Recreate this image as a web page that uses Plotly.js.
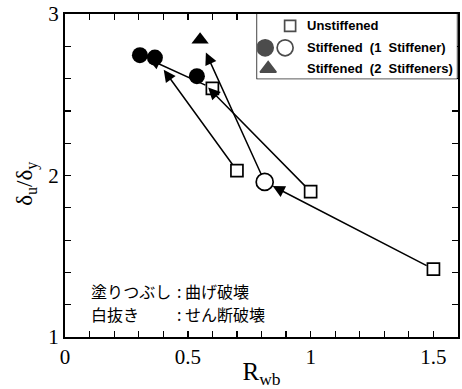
<!DOCTYPE html>
<html>
<head>
<meta charset="utf-8">
<script src="https://cdn.plot.ly/plotly-3.0.1.min.js"></script>
<style>html,body{margin:0;padding:0;background:#fff;}#chart{width:462px;height:389px;}</style>
</head>
<body>
<div id="chart"></div>
<script>
// ---- data ----
const unstiffX = [0.60, 0.70, 1.00, 1.50];
const unstiffY = [2.54, 2.03, 1.90, 1.42];
const stiff1FilledX = [0.305, 0.366, 0.537];
const stiff1FilledY = [2.745, 2.73, 2.615];
const stiff1OpenX = [0.813];
const stiff1OpenY = [1.96];
const stiff2X = [0.55];
const stiff2Y = [2.84];
// arrows: from (x0,y0) to (x1,y1)
const arrowFromX = [1.50, 0.813, 1.00, 0.70, 0.60];
const arrowFromY = [1.42, 1.96, 1.90, 2.03, 2.54];
const arrowToX   = [0.813, 0.55, 0.537, 0.366, 0.305];
const arrowToY   = [1.96, 2.84, 2.615, 2.73, 2.745];
const arrowStandoff = [9, 14, 16, 15, 9];
// legend
const legendLabels = ["Unstiffened", "Stiffened  (1  Stiffener)", "Stiffened  (2  Stiffeners)"];
const legendSymX = [0.165, 0.04, 0.14, 0.055];
const legendSymY = [0.815, 0.477, 0.477, 0.154];
const legendSym = ["square-open", "circle", "circle-open", "triangle-up"];
const legendSymSize = [11, 16, 16, 14];
const legendTextY = [0.815, 0.477, 0.154];
// note text
const noteLeft = ["塗りつぶし", "白抜き"];
const noteRight = [": 曲げ破壊", ": せん断破壊"];
const noteY = [0.142, 0.071];

const serif = "Liberation Serif, Times New Roman, serif";
const sansN = "Liberation Sans Narrow, Liberation Sans, Arial, sans-serif";
const jp = "Noto Sans CJK JP, sans-serif";

const traces = [
  {x: unstiffX, y: unstiffY, type: 'scatter', mode: 'markers',
   marker: {symbol: 'square-open', size: 12, color: '#000', line: {width: 1.7, color: '#000'}}, showlegend: false},
  {x: stiff1FilledX, y: stiff1FilledY, type: 'scatter', mode: 'markers',
   marker: {symbol: 'circle', size: 16, color: '#000'}, showlegend: false},
  {x: stiff1OpenX, y: stiff1OpenY, type: 'scatter', mode: 'markers',
   marker: {symbol: 'circle', size: 17, color: '#fff', line: {width: 1.7, color: '#000'}}, showlegend: false},
  {x: stiff2X, y: stiff2Y, type: 'scatter', mode: 'markers',
   marker: {symbol: 'triangle-up', size: 15, color: '#000'}, showlegend: false},
  {x: legendSymX, y: legendSymY, xaxis: 'x2', yaxis: 'y2', type: 'scatter', mode: 'markers',
   marker: {symbol: legendSym, size: legendSymSize, color: '#000', line: {width: 1.7, color: '#000'}},
   showlegend: false, hoverinfo: 'skip'}
];

const annotations = [];
for (let i = 0; i < arrowFromX.length; i++) {
  annotations.push({
    x: arrowToX[i], y: arrowToY[i], ax: arrowFromX[i], ay: arrowFromY[i],
    xref: 'x', yref: 'y', axref: 'x', ayref: 'y',
    showarrow: true, arrowhead: 2, arrowsize: 1.6, arrowwidth: 1.5, arrowcolor: '#000',
    standoff: arrowStandoff[i], startstandoff: 6, text: ''
  });
}
for (let i = 0; i < legendLabels.length; i++) {
  annotations.push({
    x: 0.24, y: legendTextY[i], xref: 'x2', yref: 'y2', xanchor: 'left', yanchor: 'middle',
    text: '<b>' + legendLabels[i] + '</b>', showarrow: false,
    font: {family: sansN, size: 13, color: '#000'}
  });
}
for (let i = 0; i < noteLeft.length; i++) {
  annotations.push({x: 0.0636, y: noteY[i], xref: 'paper', yref: 'paper', xanchor: 'left', yanchor: 'middle',
    text: noteLeft[i], showarrow: false, borderpad: 0, font: {family: jp, size: 16, color: '#000'}});
  annotations.push({x: 0.282, y: noteY[i], xref: 'paper', yref: 'paper', xanchor: 'left', yanchor: 'middle',
    text: noteRight[i], showarrow: false, borderpad: 0, font: {family: jp, size: 16, color: '#000'}});
}
// y-axis title (placed as rotated annotation for exact position)
annotations.push({x: -0.097, y: 0.474, xref: 'paper', yref: 'paper', xanchor: 'center', yanchor: 'middle',
  textangle: -90, text: 'δ<sub>u</sub>/δ<sub>y</sub>', showarrow: false,
  font: {family: serif, size: 23, color: '#000'}});

const layout = {
  width: 462, height: 389,
  margin: {l: 65, r: 4, t: 14, b: 52},
  paper_bgcolor: '#fff', plot_bgcolor: '#fff',
  showlegend: false,
  xaxis: {
    range: [0, 1.6], tickvals: [0, 0.5, 1, 1.5], ticktext: ['0', '0.5', '1', '1.5'],
    ticks: 'inside', ticklen: 6, tickwidth: 1.5, tickcolor: '#000',
    minor: {dtick: 0.1, ticks: 'inside', ticklen: 6, tickwidth: 1.2, tickcolor: '#000'},
    showline: true, linewidth: 2, linecolor: '#000', mirror: 'ticks',
    showgrid: false, zeroline: false,
    tickfont: {family: serif, size: 21, color: '#000'},
    title: {text: 'R<sub>wb</sub>', font: {family: serif, size: 25, color: '#000'}, standoff: 6}
  },
  yaxis: {
    range: [1, 3], tickvals: [1, 2, 3], ticktext: ['1', '2', '3'],
    ticks: 'inside', ticklen: 6, tickwidth: 1.5, tickcolor: '#000',
    minor: {dtick: 0.2, ticks: 'inside', ticklen: 6, tickwidth: 1.2, tickcolor: '#000'},
    showline: true, linewidth: 2, linecolor: '#000', mirror: 'ticks',
    showgrid: false, zeroline: false,
    tickfont: {family: serif, size: 21, color: '#000'}
  },
  xaxis2: {domain: [0.489, 0.997], range: [0, 1], anchor: 'y2', visible: false, fixedrange: true},
  yaxis2: {domain: [0.80, 1.0], range: [0, 1], anchor: 'x2', visible: false, fixedrange: true},
  shapes: [
    {type: 'rect', xref: 'paper', yref: 'paper', x0: 0.489, x1: 0.997, y0: 0.80, y1: 1.0,
     line: {color: '#000', width: 1.5}, fillcolor: '#fff', layer: 'below'}
  ],
  annotations: annotations
};

Plotly.newPlot('chart', traces, layout, {staticPlot: true, displayModeBar: false});
</script>
</body>
</html>
